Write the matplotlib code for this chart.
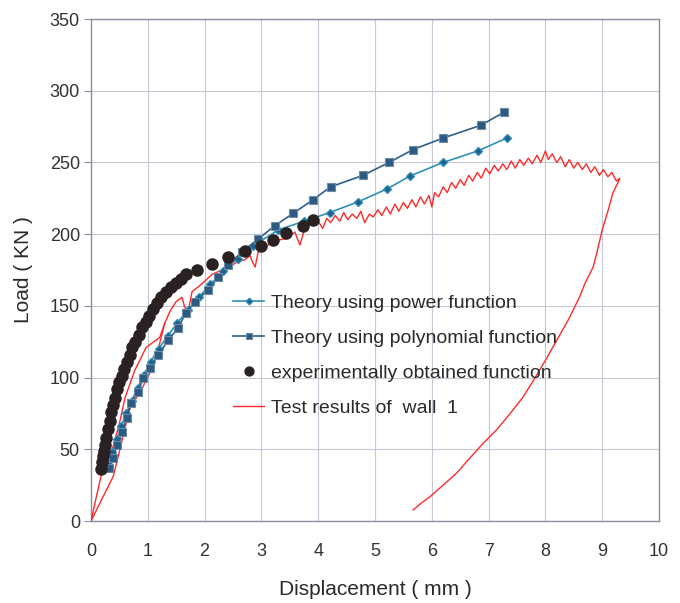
import matplotlib
matplotlib.use("Agg")
import matplotlib.pyplot as plt

plt.rcParams['font.family'] = ['Liberation Sans', 'DejaVu Sans']

# ---- data ----
x_ticks = [0, 1, 2, 3, 4, 5, 6, 7, 8, 9, 10]
y_ticks = [0, 50, 100, 150, 200, 250, 300, 350]

power_x = [0.30, 0.37, 0.45, 0.53, 0.62, 0.72, 0.82, 0.93, 1.05, 1.19, 1.35, 1.52, 1.70,
           1.90, 2.10, 2.32, 2.58, 2.86, 3.30, 3.75, 4.20, 4.70, 5.21, 5.62, 6.20, 6.81, 7.32]
power_y = [40, 48, 57, 66, 75, 84, 93, 102, 111, 120, 129, 138, 147,
           156, 165, 174, 183, 192, 203, 209, 215, 222.5, 231.5, 240.6, 250, 258, 267]

poly_x = [0.32, 0.39, 0.46, 0.55, 0.63, 0.70, 0.83, 0.92, 1.04, 1.18, 1.36, 1.53, 1.67,
          1.83, 2.06, 2.24, 2.41, 2.66, 2.94, 3.24, 3.56, 3.91, 4.22, 4.79, 5.25, 5.67,
          6.20, 6.87, 7.27]
poly_y = [37, 44, 53, 62, 72, 82, 90, 99.7, 106.7, 115.7, 126, 134.6, 145,
          152.7, 161, 170, 178.5, 187.6, 196.5, 206, 214.5, 224, 233, 241, 250, 259,
          267, 276, 285]

exp_x = [0.17, 0.19, 0.21, 0.23, 0.25, 0.27, 0.30, 0.33, 0.36, 0.39, 0.42, 0.46, 0.50,
         0.54, 0.58, 0.63, 0.68, 0.73, 0.78, 0.84, 0.90, 0.96, 1.02, 1.09, 1.16, 1.24,
         1.32, 1.40, 1.49, 1.58, 1.67, 1.86, 2.13, 2.42, 2.71, 3.00, 3.20, 3.43, 3.73, 3.91]
exp_y = [36, 41, 45, 49, 53, 58, 64, 70, 76, 81, 86, 92, 97,
         101, 106, 111, 116, 121, 125, 130, 135, 139, 143, 148, 152, 156,
         160, 163, 166, 169, 172, 175, 179, 184, 188, 192, 196, 200.6, 206, 210]

# first loading cycle of the wall test
test_loop_x = [0.0, 0.18, 0.30, 0.39, 0.50, 0.60, 0.77, 0.97, 1.21, 1.30]
test_loop_y = [0, 32, 42, 52, 68, 86, 105, 121, 128, 138]

# main test record of wall 1 (loading, peak, unloading)
test_x = [0.0, 0.39, 0.48, 0.58, 0.69, 0.88, 1.06, 1.21, 1.30, 1.40, 1.50, 1.60, 1.65,
          1.71, 1.78, 1.88, 2.00, 2.13, 2.25, 2.36, 2.47, 2.59, 2.70, 2.80, 2.85, 2.89,
          2.94, 3.06, 3.20, 3.32, 3.45, 3.59, 3.64, 3.68, 3.77, 3.91,
          4.00, 4.08, 4.15, 4.22, 4.30, 4.38, 4.45, 4.52, 4.60, 4.68, 4.75, 4.82, 4.90,
          4.97, 5.05, 5.12, 5.20, 5.27, 5.35, 5.42, 5.50, 5.57, 5.65, 5.72, 5.80, 5.87,
          5.95, 6.00, 6.05, 6.12, 6.20, 6.27, 6.35, 6.42, 6.50, 6.57, 6.65, 6.72, 6.80,
          6.87, 6.95, 7.02, 7.10, 7.17, 7.25, 7.32, 7.40, 7.47, 7.55, 7.62, 7.70, 7.77,
          7.85, 7.92, 8.00, 8.05, 8.12, 8.20, 8.27, 8.35, 8.42, 8.50, 8.57, 8.65, 8.72,
          8.80, 8.87, 8.95, 9.02, 9.10, 9.17, 9.25, 9.31,
          9.28, 9.19, 9.10, 9.00, 8.90, 8.84, 8.70, 8.60, 8.40, 8.20, 8.00, 7.79, 7.60,
          7.38, 7.15, 6.90, 6.65, 6.44, 6.20, 5.97, 5.80, 5.67]
test_y = [0, 31, 45, 62, 79, 91, 105, 124, 138, 147, 153, 156, 149,
          146, 160, 163, 167, 172, 174, 176, 178, 181, 182, 185, 180, 177,
          187, 191, 194.6, 196, 197, 201.5, 196, 192.5, 205, 207.8,
          209, 204, 211, 208, 213, 209, 215, 210, 214, 211, 216, 208, 214,
          212, 217, 213, 219, 214, 221, 216, 222, 218, 224, 219, 226, 221,
          227, 219, 229, 226, 233, 229, 236, 232, 238, 234, 241, 237, 243,
          239, 246, 242, 248, 244, 249, 245, 251, 246, 252, 248, 253, 249,
          255, 250, 258, 252, 256, 250, 254, 247, 252, 246, 250, 245, 249,
          243, 247, 241, 245, 240, 243, 237, 239,
          236, 229, 216, 203, 186, 177, 166, 156, 140, 126, 112, 98, 86,
          75, 64, 54, 43, 33.5, 25, 17, 12, 7.7]

labels = ["Theory using power function",
          "Theory using polynomial function",
          "experimentally obtained function",
          "Test results of  wall  1"]

# ---- figure ----
fig = plt.figure(figsize=(6.8, 6.03), dpi=100)
ax = fig.add_axes([91/680, 82/603, 568/680, 502/603])

red = '#ff2a2a'
c_pow = '#2f8fb8'
c_poly = '#2d5e8c'

ax.plot(test_loop_x, test_loop_y, color=red, lw=1.0, zorder=3)
ax.plot(test_x, test_y, color=red, lw=1.0, zorder=3, label=labels[3])
ax.plot(power_x, power_y, color=c_pow, lw=1.2, marker='D', ms=4.2,
        mfc='#1f5f8a', mec=c_pow, zorder=4, label=labels[0])
ax.plot(poly_x, poly_y, color=c_poly, lw=1.2, marker='s', ms=5.5,
        mfc='#2b5a82', mec='#6f8aa3', mew=0.8, zorder=5, label=labels[1])
ax.plot(exp_x, exp_y, ls='none', marker='o', ms=8, mfc='#2a2222',
        mec='#2a2222', zorder=6, label=labels[2])

ax.set_xlim(0, 10)
ax.set_ylim(0, 350)
ax.set_xticks(x_ticks)
ax.set_yticks(y_ticks)
ax.grid(True, color='#c4c8d4', lw=0.8)
ax.set_axisbelow(True)
for s in ax.spines.values():
    s.set_color('#8a8fa0')
    s.set_linewidth(1.0)
ax.tick_params(axis='y', length=5, color='#8a8fa0', labelsize=13, labelcolor='#333333', pad=3)
ax.tick_params(axis='x', length=0, labelsize=13, labelcolor='#333333', pad=16)

ax.set_xlabel("Displacement ( mm )", fontsize=15, color='#2a2a2a', labelpad=14)
ax.set_ylabel("Load ( KN )", fontsize=15, color='#2a2a2a', labelpad=12)

h, l = ax.get_legend_handles_labels()
hd = {lab: hh for hh, lab in zip(h, l)}
ax.legend([hd[k] for k in labels], labels, loc='upper left',
          bbox_to_anchor=((233-91)/568, (521-294)/502), frameon=False,
          fontsize=14, labelspacing=0.9, handlelength=1.6, handletextpad=0.35,
          markerscale=0.8, borderpad=0, borderaxespad=0, labelcolor='#2a2a2a')

fig.savefig("out.png", dpi=100)
